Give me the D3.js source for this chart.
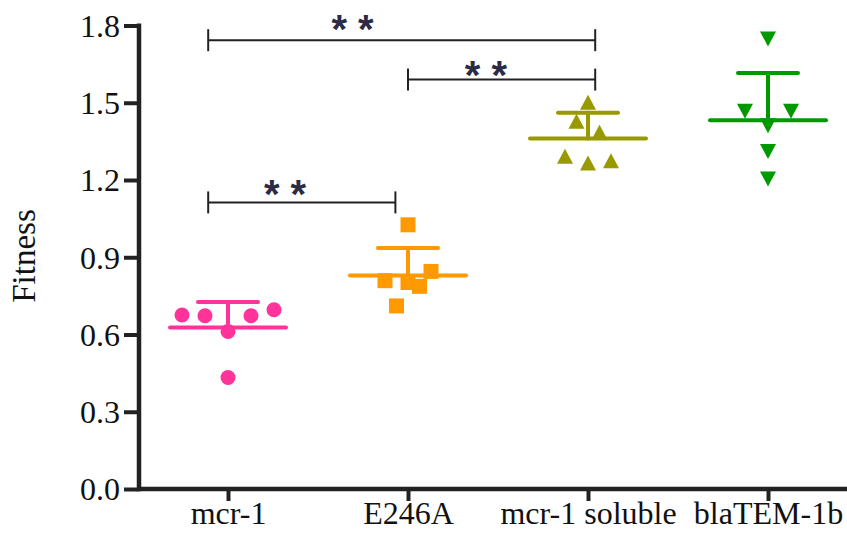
<!DOCTYPE html>
<html>
<head>
<meta charset="utf-8">
<script src="https://cdn.jsdelivr.net/npm/d3@7"></script>
<style>
  html, body { margin: 0; padding: 0; background: #fff; }
  svg { display: block; }
</style>
</head>
<body>
<svg id="chart" width="847" height="540"></svg>
<script>
// Groups and per-replicate fitness values
const categories = ["mcr-1", "E246A", "mcr-1 soluble", "blaTEM-1b"];
const mcr1 = [0.676, 0.673, 0.673, 0.696, 0.612, 0.433];
const e246a = [1.026, 0.809, 0.802, 0.787, 0.845, 0.711];
const mcr1Soluble = [1.502, 1.428, 1.385, 1.292, 1.266, 1.275];
const blaTEM1b = [1.748, 1.467, 1.467, 1.411, 1.311, 1.204];

// Horizontal scatter slots for overlapping replicates
const mcr1Slots = [-2, -1, 1, 2, 0, 0];
const e246aSlots = [0, -1, 0, 0.5, 1, -0.5];
const mcr1SolubleSlots = [0, -0.5, 0.5, -1, 0, 1];
const blaTEM1bSlots = [0, -1, 1, 0, 0, 0];

// Mean and SD for each group
const means = [0.627, 0.829, 1.361, 1.432];
const sds = [0.099, 0.107, 0.100, 0.184];

// Y axis ticks
const yTicks = [0.0, 0.3, 0.6, 0.9, 1.2, 1.5, 1.8];

// Significance brackets (horizontal positions in category index units)
const bracketFrom = [-0.11, 1.0, -0.11];
const bracketTo = [2.04, 2.04, 0.93];
const bracketLevel = [1.743, 1.590, 1.113];
const bracketLabel = ["* *", "* *", "* *"];
const labelPos = [0.692, 1.433, 0.317];
const labelLevel = [1.820, 1.639, 1.180];

const groupValues = [mcr1, e246a, mcr1Soluble, blaTEM1b];
const groupSlots = [mcr1Slots, e246aSlots, mcr1SolubleSlots, blaTEM1bSlots];
const colors = ["#ff3399", "#ff9900", "#999900", "#009900"];
const shapes = ["circle", "square", "triangleUp", "triangleDown"];

const svg = d3.select("#chart");
const axisX = 139, axisY = 489;

const x = d3.scalePoint().domain(categories).range([138, 858]).padding(0.5);
const xi = d3.scaleLinear().domain([0, 3]).range([x(categories[0]), x(categories[3])]);
const y = d3.scaleLinear().domain([0, 1.8]).range([axisY, 25.5]);

const serif = "'Liberation Serif', 'Times New Roman', serif";
const slotWidth = 23;

function shapePath(kind, s) {
  const h = s / 2;
  if (kind === "square") return `M${-h},${-h}H${h}V${h}H${-h}Z`;
  if (kind === "triangleUp") return `M0,${-h}L${h + 0.5},${h}L${-h - 0.5},${h}Z`;
  if (kind === "triangleDown") return `M0,${h}L${h + 0.5},${-h}L${-h - 0.5},${-h}Z`;
  return d3.symbol(d3.symbolCircle, Math.PI * h * h)();
}

// Axes
const yAxis = d3.axisLeft(y).tickValues(yTicks).tickFormat(d3.format(".1f")).tickSize(15).tickPadding(4);
const gy = svg.append("g").attr("transform", `translate(${axisX},0)`).call(yAxis);
gy.select(".domain").remove();
gy.selectAll(".tick line").attr("stroke", "#222").attr("stroke-width", 4);
gy.selectAll(".tick text").attr("font-family", serif).attr("font-size", 32).attr("fill", "#111").attr("dy", "0.34em");

const xAxis = d3.axisBottom(x).tickSize(12).tickPadding(6);
const gx = svg.append("g").attr("transform", `translate(0,${axisY})`).call(xAxis);
gx.select(".domain").remove();
gx.selectAll(".tick line").attr("stroke", "#222").attr("stroke-width", 4);
gx.selectAll(".tick text").attr("font-family", serif).attr("font-size", 32).attr("fill", "#111").attr("dy", "0.52em");

svg.append("line").attr("x1", axisX).attr("x2", 858).attr("y1", axisY).attr("y2", axisY)
  .attr("stroke", "#222").attr("stroke-width", 4.5);
svg.append("line").attr("x1", axisX).attr("x2", axisX).attr("y1", y(1.8) - 2).attr("y2", axisY + 2.25)
  .attr("stroke", "#222").attr("stroke-width", 4.5);

svg.append("text")
  .attr("transform", `translate(35,256) rotate(-90)`)
  .attr("text-anchor", "middle")
  .attr("font-family", serif).attr("font-size", 33).attr("fill", "#111")
  .text("Fitness");

// Mean lines and upward SD bars
categories.forEach((c, i) => {
  const g = svg.append("g").attr("stroke", colors[i]).attr("stroke-width", 4).attr("stroke-linecap", "round");
  const cx = x(c);
  g.append("line").attr("x1", cx - 58).attr("x2", cx + 58).attr("y1", y(means[i])).attr("y2", y(means[i]));
  g.append("line").attr("x1", cx).attr("x2", cx).attr("y1", y(means[i])).attr("y2", y(means[i] + sds[i]));
  g.append("line").attr("x1", cx - 30).attr("x2", cx + 30).attr("y1", y(means[i] + sds[i])).attr("y2", y(means[i] + sds[i]));
});

// Replicate points
categories.forEach((c, i) => {
  svg.append("g").selectAll("path")
    .data(groupValues[i].map((v, k) => ({ v, slot: groupSlots[i][k] })))
    .join("path")
    .attr("transform", d => `translate(${x(c) + d.slot * slotWidth},${y(d.v)})`)
    .attr("d", shapePath(shapes[i], 15))
    .attr("fill", colors[i]);
});

// Significance brackets
const starSize = 40;
bracketLevel.forEach((lv, i) => {
  const g = svg.append("g").attr("stroke", "#222").attr("stroke-width", 2);
  const x1 = xi(bracketFrom[i]), x2 = xi(bracketTo[i]), yy = y(lv);
  g.append("line").attr("x1", x1).attr("x2", x2).attr("y1", yy).attr("y2", yy);
  g.append("line").attr("x1", x1).attr("x2", x1).attr("y1", yy - 11).attr("y2", yy + 11);
  g.append("line").attr("x1", x2).attr("x2", x2).attr("y1", yy - 11).attr("y2", yy + 11);
  svg.append("text")
    .attr("x", xi(labelPos[i])).attr("y", y(labelLevel[i]) + 0.56 * starSize)
    .attr("text-anchor", "middle")
    .attr("font-family", "'Liberation Sans', Arial, sans-serif")
    .attr("font-weight", "bold").attr("font-size", starSize).attr("fill", "#2b2b45")
    .text(bracketLabel[i]);
});
</script>
</body>
</html>
